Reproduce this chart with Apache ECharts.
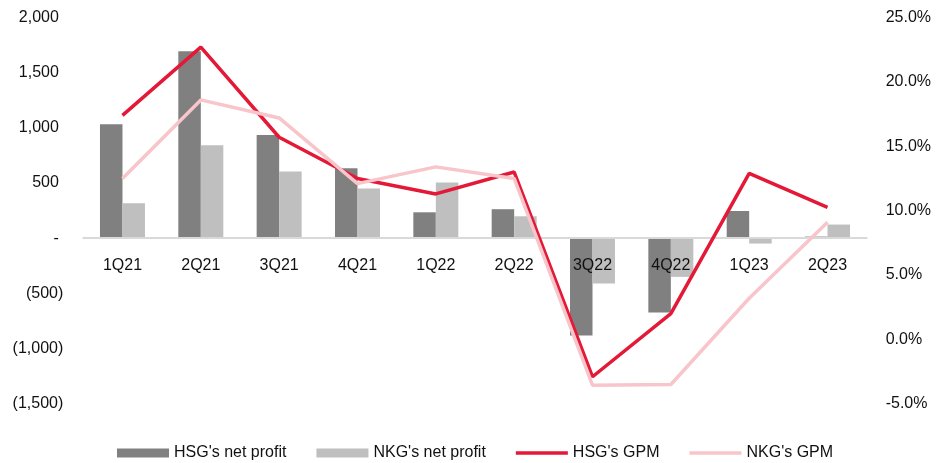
<!DOCTYPE html>
<html>
<head>
<meta charset="utf-8">
<script src="https://cdn.jsdelivr.net/npm/echarts@6/dist/echarts.min.js"></script>
<style>
  html, body { margin: 0; padding: 0; background: #fff; }
  #chart { width: 936px; height: 463px; }
</style>
</head>
<body>
<div id="chart"></div>
<script>
const categories = ['1Q21','2Q21','3Q21','4Q21','1Q22','2Q22','3Q22','4Q22','1Q23','2Q23'];
const hsgNetProfit = [1033, 1694, 936, 634, 235, 263, -881, -673, 247, 15];
const nkgNetProfit = [317, 842, 604, 450, 504, 199, -411, -350, -48, 124];
const hsgGPM = [17.4, 22.7, 15.7, 12.5, 11.3, 13.0, -2.9, 2.0, 12.9, 10.25];
const nkgGPM = [12.5, 18.6, 17.2, 12.1, 13.4, 12.5, -3.55, -3.5, 3.2, 9.1];
const seriesNames = ["HSG's net profit", "NKG's net profit", "HSG's GPM", "NKG's GPM"];

const FONT = "'Liberation Sans', Arial, sans-serif";
const FS = 16;
const chart = echarts.init(document.getElementById('chart'), null, { renderer: 'canvas' });

function fmtLeft(v) {
  if (v === 0) return '- ';
  const s = Math.abs(v).toLocaleString('en-US');
  return v < 0 ? '(' + s + ')' : s + ' ';
}
const lineIcon = 'path://M0,0 L52,0 L52,3.6 L0,3.6 Z';

chart.setOption({
  animation: false,
  backgroundColor: '#ffffff',
  textStyle: { fontFamily: FONT },
  grid: { left: 83.3, right: 69.3, top: 17.5, bottom: 59.2, containLabel: false },
  legend: {
    left: 117, top: 445, padding: 0,
    itemWidth: 52, itemHeight: 9, itemGap: 30,
    textStyle: { fontFamily: FONT, fontSize: FS, color: '#111' },
    data: [
      { name: seriesNames[0], icon: 'rect' },
      { name: seriesNames[1], icon: 'rect' },
      { name: seriesNames[2], icon: lineIcon },
      { name: seriesNames[3], icon: lineIcon }
    ]
  },
  xAxis: {
    type: 'category',
    data: categories,
    z: 3,
    position: 'bottom',
    offset: -165.7,
    axisLine: { onZero: false, lineStyle: { color: '#d9d9d9', width: 2 } },
    axisTick: { show: false },
    axisLabel: { fontFamily: FONT, fontSize: FS, color: '#111', margin: 19 }
  },
  yAxis: [
    {
      type: 'value', min: -1500, max: 2000, interval: 500,
      splitLine: { show: false },
      axisLine: { show: false }, axisTick: { show: false },
      axisLabel: { fontFamily: FONT, fontSize: FS, color: '#111', margin: 20, formatter: fmtLeft }
    },
    {
      type: 'value', min: -5, max: 25, interval: 5,
      splitLine: { show: false },
      axisLine: { show: false }, axisTick: { show: false },
      axisLabel: { fontFamily: FONT, fontSize: FS, color: '#111', margin: 19,
        formatter: v => v.toFixed(1) + '%' }
    }
  ],
  series: [
    { name: seriesNames[0], type: 'bar', data: hsgNetProfit, yAxisIndex: 0,
      barWidth: 22.5, barGap: '0%', itemStyle: { color: '#808080' } },
    { name: seriesNames[1], type: 'bar', data: nkgNetProfit, yAxisIndex: 0,
      barWidth: 22.5, barGap: '0%', itemStyle: { color: '#bfbfbf' } },
    { name: seriesNames[2], type: 'line', data: hsgGPM, yAxisIndex: 1, z: 5,
      symbol: 'none', lineStyle: { color: '#e31937', width: 3.5 }, itemStyle: { color: '#e31937' } },
    { name: seriesNames[3], type: 'line', data: nkgGPM, yAxisIndex: 1, z: 6,
      symbol: 'none', lineStyle: { color: '#f7c5ca', width: 3.5 }, itemStyle: { color: '#f7c5ca' } }
  ]
});
</script>
</body>
</html>
